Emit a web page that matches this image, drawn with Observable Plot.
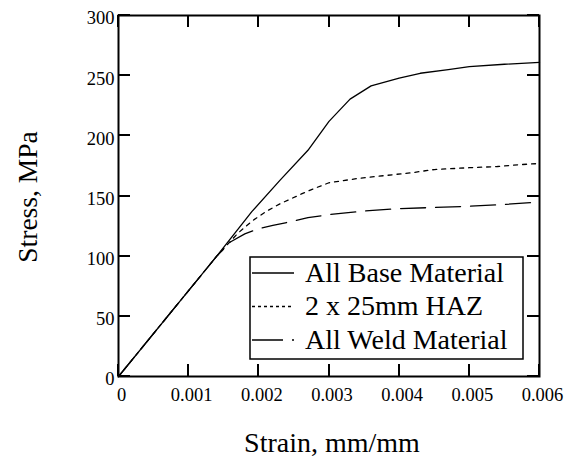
<!DOCTYPE html>
<html>
<head>
<meta charset="utf-8">
<script src="https://cdn.jsdelivr.net/npm/d3@7"></script>
<script src="https://cdn.jsdelivr.net/npm/@observablehq/plot@0.6"></script>
<style>
  html, body { margin: 0; padding: 0; background: white; }
  svg text { font-family: 'Liberation Serif', 'Times New Roman', serif; }
</style>
</head>
<body>
<div id="chart"></div>
<script>
// ---- data ----
const baseStrain = [0, 0.0014, 0.0019, 0.0023, 0.0027, 0.0030, 0.0033, 0.0036, 0.0040, 0.0043, 0.0047, 0.0050, 0.0055, 0.0060];
const baseStress = [0, 100, 137, 163, 188, 212, 230.5, 241.5, 248, 252, 255, 257.5, 259.5, 261];

const hazStrain = [0, 0.0014, 0.0017, 0.0019, 0.0021, 0.0023, 0.0026, 0.0028, 0.0030, 0.0034, 0.0038, 0.0042, 0.0045, 0.0050, 0.0054, 0.0057, 0.0060];
const hazStress = [0, 100, 119, 129, 137, 143.5, 151.5, 156.5, 161, 164.5, 167, 169.5, 172, 173.5, 174.5, 176, 177];

const weldStrain = [0, 0.0014, 0.0016, 0.0018, 0.0020, 0.0022, 0.0024, 0.0027, 0.0030, 0.0035, 0.0040, 0.0045, 0.0050, 0.0055, 0.0060];
const weldStress = [0, 100, 112, 118.5, 123, 125.5, 128, 132, 134.5, 137.5, 139.5, 140.5, 141.5, 143, 145];

const seriesNames = ["All Base Material", "2 x 25mm HAZ", "All Weld Material"];
const xTicks = [0, 0.001, 0.002, 0.003, 0.004, 0.005, 0.006];
const yTicks = [0, 50, 100, 150, 200, 250, 300];
const xTitle = "Strain, mm/mm";
const yTitle = "Stress, MPa";

// ---- build tables ----
const toRows = (xs, ys) => xs.map((x, i) => ({x, y: ys[i]}));
const base = toRows(baseStrain, baseStress);
const haz = toRows(hazStrain, hazStress);
const weld = toRows(weldStrain, weldStress);

const W = 573, H = 460;
const mL = 118, mR = 34, mT = 15, mB = 84;
const xDom = [0, 0.006], yDom = [0, 300];
const tickLen = 12;
const font = "'Liberation Serif', 'Times New Roman', serif";

const fmtX = d => d === 0 ? "0" : d3.format(".3f")(d);
const fmtY = d => d3.format("d")(d);

const chart = Plot.plot({
  width: W,
  height: H,
  marginLeft: mL,
  marginRight: mR,
  marginTop: mT,
  marginBottom: mB,
  style: {fontFamily: font, background: "white", color: "black"},
  x: {type: "linear", domain: xDom, label: null},
  y: {type: "linear", domain: yDom, label: null},
  marks: [
    Plot.axisX({ticks: xTicks, tickSize: 0, tickPadding: 11, dx: 3, fontSize: 18.5, tickFormat: fmtX, label: null}),
    Plot.axisY({ticks: yTicks, tickSize: 0, tickPadding: 4, dy: 3, fontSize: 18.5, tickFormat: fmtY, label: null}),
    Plot.line(base, {x: "x", y: "y", stroke: "black", strokeWidth: 1.3}),
    Plot.line(haz, {x: "x", y: "y", stroke: "black", strokeWidth: 1.3, strokeDasharray: "4,5"}),
    Plot.line(weld, {x: "x", y: "y", stroke: "black", strokeWidth: 1.3, strokeDasharray: "25,10"}),
    Plot.frame({stroke: "black", strokeWidth: 2})
  ]
});

document.getElementById("chart").appendChild(chart);

const svg = d3.select(chart);
const sx = chart.scale("x"), sy = chart.scale("y");
const X = v => sx.apply(v), Y = v => sy.apply(v);
const x0 = X(xDom[0]), x1 = X(xDom[1]), y0 = Y(yDom[0]), y1 = Y(yDom[1]);

// inward ticks on all four sides, positioned with Plot's scales
const tg = svg.append("g")
  .attr("stroke", "black")
  .attr("stroke-width", 2)
  .attr("shape-rendering", "crispEdges");
xTicks.forEach(v => {
  tg.append("line").attr("x1", X(v)).attr("x2", X(v)).attr("y1", y0).attr("y2", y0 - tickLen);
  tg.append("line").attr("x1", X(v)).attr("x2", X(v)).attr("y1", y1).attr("y2", y1 + tickLen);
});
yTicks.forEach(v => {
  tg.append("line").attr("x1", x0).attr("x2", x0 + tickLen).attr("y1", Y(v)).attr("y2", Y(v));
  tg.append("line").attr("x1", x1 - tickLen).attr("x2", x1).attr("y1", Y(v)).attr("y2", Y(v));
});

// axis titles
svg.append("text")
  .attr("x", 332).attr("y", 452)
  .attr("text-anchor", "middle")
  .style("font-size", "28px")
  .style("font-family", font)
  .attr("fill", "black")
  .text(xTitle);

svg.append("text")
  .attr("transform", "translate(37,197) rotate(-90)")
  .attr("text-anchor", "middle")
  .style("font-size", "27.5px")
  .style("font-family", font)
  .attr("fill", "black")
  .text(yTitle);

// legend
const lg = svg.append("g");
lg.append("rect")
  .attr("x", 250).attr("y", 257).attr("width", 273).attr("height", 102)
  .attr("fill", "white").attr("stroke", "black").attr("stroke-width", 1.5);
const dashes = [null, "3,3", "31,9,2,30"];
const rowY = [273, 306.5, 340];
seriesNames.forEach((name, i) => {
  lg.append("line")
    .attr("x1", 252).attr("x2", 294).attr("y1", rowY[i]).attr("y2", rowY[i])
    .attr("stroke", "black").attr("stroke-width", 1.3)
    .attr("stroke-dasharray", dashes[i]);
  lg.append("text")
    .attr("x", 305).attr("y", rowY[i] + 8.7)
    .attr("text-anchor", "start")
    .style("font-size", "28px")
    .style("font-family", font)
    .attr("fill", "black")
    .text(name);
});
</script>
</body>
</html>
